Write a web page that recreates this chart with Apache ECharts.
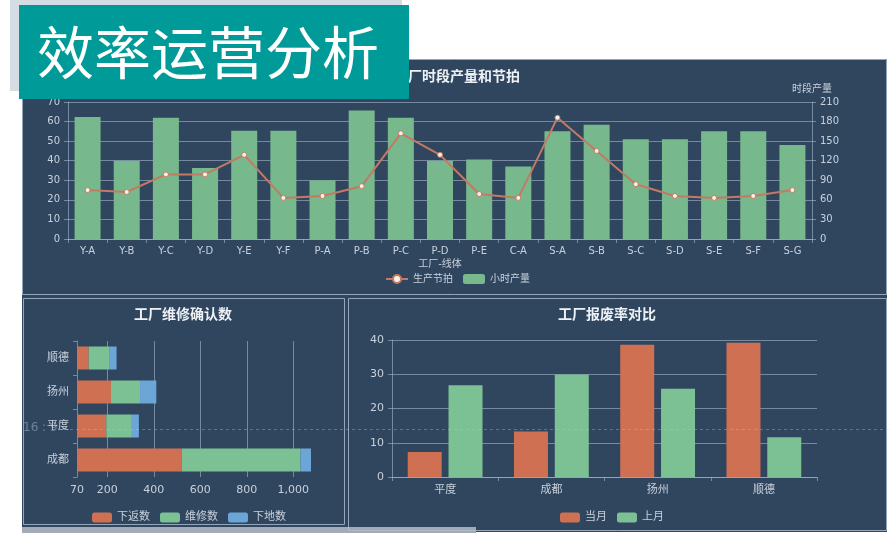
<!DOCTYPE html>
<html>
<head>
<meta charset="utf-8">
<script src="https://cdn.jsdelivr.net/npm/echarts@6/dist/echarts.min.js"></script>
<style>
html, body { margin: 0; padding: 0; background: #fff; }
#main { width: 889px; height: 536px; }
</style>
</head>
<body>
<div id="main"></div>
<script>
// 工厂时段产量和节拍
var lineNames = ['Y-A', 'Y-B', 'Y-C', 'Y-D', 'Y-E', 'Y-F', 'P-A', 'P-B', 'P-C', 'P-D', 'P-E', 'C-A', 'S-A', 'S-B', 'S-C', 'S-D', 'S-E', 'S-F', 'S-G'];
var hourOutput = [187, 120, 186, 109, 166, 166, 90, 197, 186, 120, 122, 111, 165, 175, 153, 153, 165, 165, 144];
var taktTime = [25, 24, 33, 33, 43, 21, 22, 27, 54, 43, 23, 21, 62, 45, 28, 22, 21, 22, 25];
// 工厂维修确认数
var repairCities = ['成都', '平度', '扬州', '顺德'];
var returnCount = [520, 196, 216, 120];
var repairCount = [511, 110, 125, 88];
var groundCount = [45, 30, 70, 32];
// 工厂报废率对比
var scrapCities = ['平度', '成都', '扬州', '顺德'];
var scrapThisMonth = [7.3, 13.3, 38.6, 39.2];
var scrapLastMonth = [26.8, 29.9, 25.8, 11.6];

var font = "'DejaVu Sans', 'Noto Sans CJK SC', sans-serif";
var navy = '#30465f';
var txt = '#c8d1dc';
var lineC = 'rgba(165,182,204,0.6)';
var orange = '#cf7052';
var green = '#7cc193';
var blue = '#6ca6d6';

var chart = echarts.init(document.getElementById('main'));

function axisStyle(extra) {
    var a = {
        axisLine: { show: true, lineStyle: { color: lineC, width: 1 } },
        axisTick: { show: true, length: 4, lineStyle: { color: lineC } },
        axisLabel: { color: txt, fontSize: 11, fontFamily: font },
        splitLine: { show: false }
    };
    return Object.assign(a, extra || {});
}

var option = {
    backgroundColor: '#fff',
    animation: false,
    textStyle: { fontFamily: font },
    graphic: [
        { type: 'rect', shape: { x: 10, y: 0, width: 392, height: 91 }, style: { fill: '#d6dce4' }, z: -10 },
        { type: 'rect', shape: { x: 22, y: 59, width: 865, height: 473 }, style: { fill: navy }, z: -9 },
        { type: 'rect', shape: { x: 22, y: 527, width: 454, height: 6 }, style: { fill: '#a3abb6' }, z: -8 },
        { type: 'rect', shape: { x: 22.5, y: 59.5, width: 864, height: 235 }, style: { fill: null, stroke: 'rgba(175,190,210,0.8)', lineWidth: 1 }, z: -7 },
        { type: 'rect', shape: { x: 23.5, y: 298.5, width: 321, height: 226 }, style: { fill: null, stroke: 'rgba(175,190,210,0.8)', lineWidth: 1 }, z: -7 },
        { type: 'rect', shape: { x: 348.5, y: 298.5, width: 538, height: 232 }, style: { fill: null, stroke: 'rgba(175,190,210,0.8)', lineWidth: 1 }, z: -7 },
        { type: 'line', shape: { x1: 52, y1: 429.5, x2: 889, y2: 429.5 }, style: { stroke: 'rgba(190,200,215,0.35)', lineDash: [3, 3], lineWidth: 1 }, z: 50 },
        { type: 'text', x: 23, y: 422, style: { text: '16 : 9', fill: 'rgba(190,200,215,0.45)', font: '12px ' + font }, z: 50 },
        { type: 'rect', shape: { x: 19, y: 5, width: 390, height: 94 }, style: { fill: '#009a98' }, z: 100 },
        { type: 'text', x: 37, y: 24, style: { text: '效率运营分析', fill: '#ffffff', font: '57px "Noto Sans CJK SC", sans-serif' }, z: 101 }
    ],
    title: [
        { text: '工厂时段产量和节拍', left: 394, top: 70, padding: 0, textStyle: { color: '#eef2f6', fontSize: 14, fontWeight: 'bold', fontFamily: font } },
        { text: '工厂维修确认数', left: 134, top: 308, padding: 0, textStyle: { color: '#eef2f6', fontSize: 14, fontWeight: 'bold', fontFamily: font } },
        { text: '工厂报废率对比', left: 558, top: 308, padding: 0, textStyle: { color: '#eef2f6', fontSize: 14, fontWeight: 'bold', fontFamily: font } }
    ],
    legend: [
        { data: ['生产节拍', '小时产量'], left: 385, top: 274, padding: 0, itemWidth: 22, itemHeight: 10, itemGap: 10, textStyle: { color: txt, fontSize: 10, fontFamily: font } },
        { data: ['下返数', '维修数', '下地数'], left: 92, top: 512, padding: 0, itemWidth: 20, itemHeight: 10, itemGap: 10, textStyle: { color: txt, fontSize: 11, fontFamily: font } },
        { data: ['当月', '上月'], left: 560, top: 512, padding: 0, itemWidth: 20, itemHeight: 10, itemGap: 10, textStyle: { color: txt, fontSize: 11, fontFamily: font } }
    ],
    grid: [
        { left: 68, right: 77, top: 102, bottom: 297, outerBoundsMode: 'none' },
        { left: 77, right: 578, top: 341, bottom: 59, outerBoundsMode: 'none' },
        { left: 392, right: 72, top: 340, bottom: 59, outerBoundsMode: 'none' }
    ],
    xAxis: [
        axisStyle({
            type: 'category', gridIndex: 0, data: lineNames,
            axisLabel: { color: txt, fontSize: 10, fontFamily: font, interval: 0, margin: 7 },
            name: '工厂-线体', nameLocation: 'middle', nameGap: 20,
            nameTextStyle: { color: txt, fontSize: 10, fontFamily: font }
        }),
        axisStyle({
            type: 'value', gridIndex: 1, min: 70, max: 1076, splitNumber: 5,
            axisLine: { show: false },
            axisTick: { show: false },
            axisLabel: { color: txt, fontSize: 11, fontFamily: font, showMaxLabel: false },
            splitLine: { show: true, showMinLine: false, showMaxLine: false, lineStyle: { color: lineC } }
        }),
        axisStyle({
            type: 'category', gridIndex: 2, data: scrapCities,
            axisLabel: { color: txt, fontSize: 11, fontFamily: font }
        })
    ],
    yAxis: [
        axisStyle({
            type: 'value', gridIndex: 0, min: 0, max: 70, interval: 10,
            axisLabel: { color: txt, fontSize: 10, fontFamily: font },
            splitLine: { show: true, lineStyle: { color: lineC } }
        }),
        axisStyle({
            type: 'value', gridIndex: 0, position: 'right', min: 0, max: 210, interval: 30,
            name: '时段产量', nameGap: 8,
            nameTextStyle: { color: txt, fontSize: 10, fontFamily: font },
            axisLabel: { color: txt, fontSize: 10, fontFamily: font },
            splitLine: { show: false }
        }),
        axisStyle({
            type: 'category', gridIndex: 1, data: repairCities,
            axisLabel: { color: txt, fontSize: 11, fontFamily: font }
        }),
        axisStyle({
            type: 'value', gridIndex: 2, min: 0, max: 40, interval: 10,
            splitLine: { show: true, lineStyle: { color: lineC } }
        })
    ],
    series: [
        {
            name: '小时产量', type: 'bar', xAxisIndex: 0, yAxisIndex: 1,
            barWidth: 26, itemStyle: { color: '#77b98c' }, data: hourOutput
        },
        {
            name: '生产节拍', type: 'line', xAxisIndex: 0, yAxisIndex: 0, z: 5,
            symbol: 'circle', symbolSize: 5,
            lineStyle: { color: '#c27a64', width: 2 },
            itemStyle: { color: '#fdf0e6', borderColor: '#c27a64', borderWidth: 1 },
            data: taktTime
        },
        {
            name: '下返数', type: 'bar', xAxisIndex: 1, yAxisIndex: 2, stack: 'repair',
            barWidth: 23, itemStyle: { color: orange }, data: returnCount
        },
        {
            name: '维修数', type: 'bar', xAxisIndex: 1, yAxisIndex: 2, stack: 'repair',
            barWidth: 23, itemStyle: { color: green }, data: repairCount
        },
        {
            name: '下地数', type: 'bar', xAxisIndex: 1, yAxisIndex: 2, stack: 'repair',
            barWidth: 23, itemStyle: { color: blue }, data: groundCount
        },
        {
            name: '当月', type: 'bar', xAxisIndex: 2, yAxisIndex: 3,
            barWidth: 34, barGap: '20%', itemStyle: { color: orange }, data: scrapThisMonth
        },
        {
            name: '上月', type: 'bar', xAxisIndex: 2, yAxisIndex: 3,
            barWidth: 34, barGap: '20%', itemStyle: { color: green }, data: scrapLastMonth
        }
    ]
};

chart.setOption(option);
</script>
</body>
</html>
